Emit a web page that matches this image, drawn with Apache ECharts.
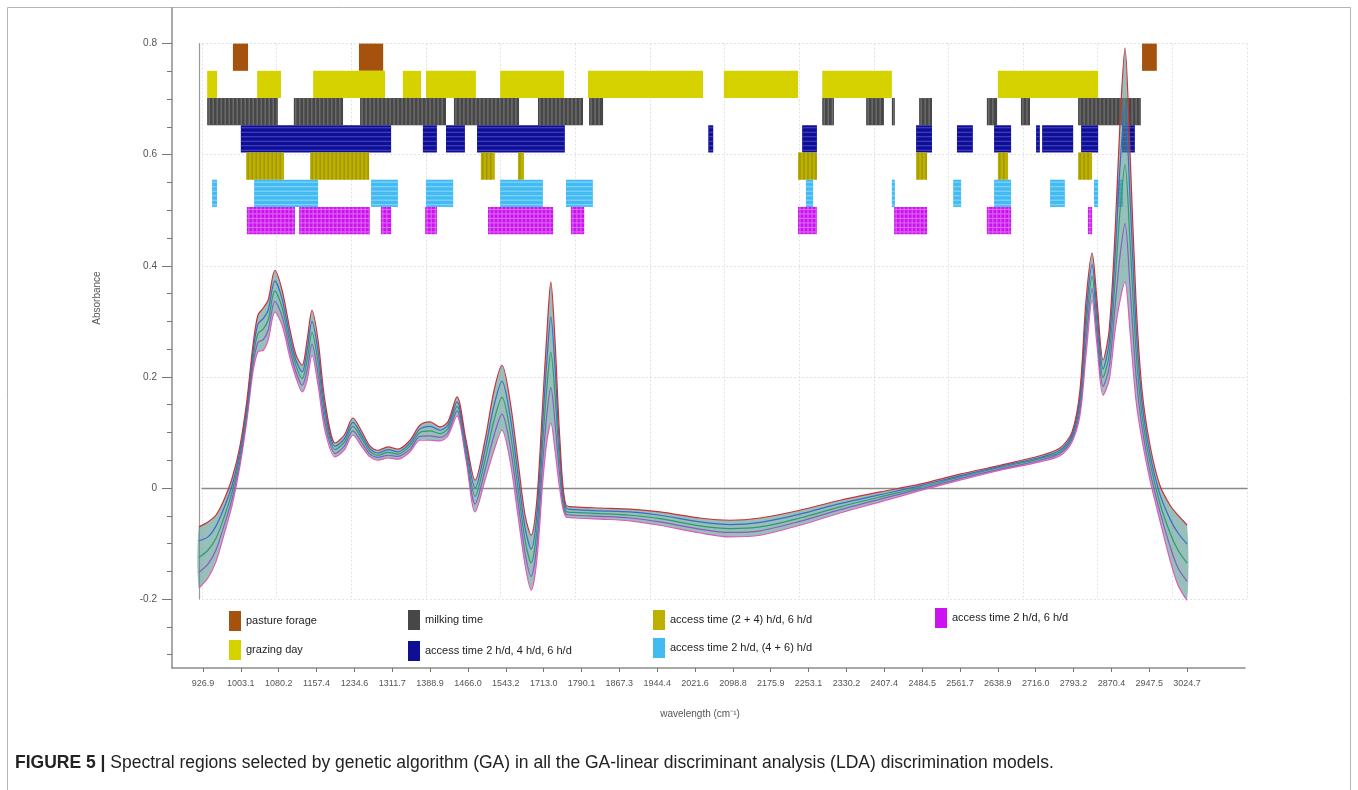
<!DOCTYPE html>
<html>
<head>
<meta charset="utf-8">
<script src="https://cdn.jsdelivr.net/npm/echarts@6/dist/echarts.min.js"></script>
<style>
  html, body { margin: 0; padding: 0; background: #fff; }
  #chart { width: 1358px; height: 790px; }
</style>
</head>
<body>
<div id="chart"></div>
<script>
// Wavenumber printed at each tick of the spectral-variable axis (tick positions 0..26)
const tickLabels = ['926.9', '1003.1', '1080.2', '1157.4', '1234.6', '1311.7', '1388.9', '1466.0', '1543.2',
  '1713.0', '1790.1', '1867.3', '1944.4', '2021.6', '2098.8', '2175.9', '2253.1', '2330.2', '2407.4',
  '2484.5', '2561.7', '2638.9', '2716.0', '2793.2', '2870.4', '2947.5', '3024.7'];
const absorbanceTicks = [-0.2, 0, 0.2, 0.4, 0.6, 0.8];
const absorbanceMinorTicks = [-0.3, -0.25, -0.15, -0.1, -0.05, 0.05, 0.1, 0.15, 0.25, 0.3, 0.35,
  0.45, 0.5, 0.55, 0.65, 0.7, 0.75];

// Sampled spectral variables, position expressed in tick units of the wavenumber axis
const specPos = [-0.11, 0.13, 0.34, 0.55, 0.77, 0.98, 1.16, 1.32, 1.45, 1.59,
  1.72, 1.90, 2.09, 2.30, 2.46, 2.62, 2.75, 2.88, 3.04, 3.22,
  3.49, 3.73, 3.96, 4.20, 4.41, 4.62, 4.89, 5.15, 5.47, 5.73,
  6.00, 6.26, 6.47, 6.71, 6.95, 7.19, 7.45, 7.69, 7.90, 8.11,
  8.32, 8.51, 8.67, 8.82, 8.98, 9.09, 9.19, 9.30, 9.43, 9.59,
  9.83, 10.49, 11.28, 12.07, 13.13, 13.92, 14.72, 15.77, 16.83, 17.89,
  18.94, 20.00, 21.06, 22.11, 22.64, 22.96, 23.17, 23.33, 23.49, 23.62,
  23.78, 23.94, 24.10, 24.23, 24.36, 24.49, 24.65, 24.81, 25.02, 25.28,
  25.55, 25.76, 26.00];

// Milk spectra (absorbance): highest and lowest sample, plus three samples inside the spread
const specUpper = [-0.070, -0.061, -0.049, -0.022, 0.018, 0.077, 0.158, 0.257, 0.311, 0.324,
  0.338, 0.392, 0.356, 0.284, 0.239, 0.221, 0.266, 0.320, 0.266, 0.158,
  0.081, 0.095, 0.126, 0.101, 0.076, 0.068, 0.074, 0.070, 0.086, 0.113,
  0.119, 0.110, 0.119, 0.164, 0.086, 0.014, 0.086, 0.176, 0.221, 0.158,
  0.050, -0.049, -0.085, -0.022, 0.158, 0.284, 0.371, 0.266, 0.086, -0.031,
  -0.034, -0.036, -0.038, -0.043, -0.054, -0.058, -0.054, -0.040, -0.022, -0.007,
  0.007, 0.025, 0.041, 0.058, 0.072, 0.101, 0.176, 0.338, 0.423, 0.338,
  0.230, 0.284, 0.464, 0.662, 0.792, 0.608, 0.338, 0.176, 0.077, 0.005,
  -0.031, -0.049, -0.067];
const specC = [-0.095, -0.088, -0.069, -0.037, 0.005, 0.068, 0.149, 0.245, 0.295, 0.305,
  0.320, 0.373, 0.340, 0.271, 0.229, 0.209, 0.248, 0.300, 0.246, 0.144,
  0.075, 0.088, 0.118, 0.094, 0.071, 0.063, 0.069, 0.065, 0.081, 0.106,
  0.111, 0.104, 0.113, 0.155, 0.077, 0.000, 0.068, 0.149, 0.192, 0.131,
  0.025, -0.072, -0.110, -0.049, 0.122, 0.235, 0.308, 0.217, 0.064, -0.036,
  -0.039, -0.041, -0.043, -0.049, -0.061, -0.066, -0.062, -0.047, -0.028, -0.012,
  0.004, 0.022, 0.039, 0.055, 0.068, 0.096, 0.165, 0.313, 0.402, 0.318,
  0.214, 0.262, 0.419, 0.581, 0.687, 0.527, 0.293, 0.154, 0.061, -0.011,
  -0.056, -0.081, -0.101];
const specB = [-0.125, -0.112, -0.091, -0.054, -0.007, 0.059, 0.140, 0.233, 0.278, 0.286,
  0.302, 0.355, 0.325, 0.259, 0.219, 0.197, 0.230, 0.280, 0.226, 0.131,
  0.069, 0.082, 0.111, 0.088, 0.066, 0.059, 0.064, 0.061, 0.076, 0.100,
  0.103, 0.098, 0.107, 0.147, 0.068, -0.015, 0.050, 0.122, 0.163, 0.104,
  0.000, -0.094, -0.135, -0.076, 0.086, 0.185, 0.244, 0.167, 0.041, -0.042,
  -0.044, -0.046, -0.049, -0.055, -0.068, -0.073, -0.070, -0.054, -0.034, -0.016,
  0.001, 0.020, 0.037, 0.053, 0.065, 0.092, 0.154, 0.289, 0.381, 0.298,
  0.199, 0.239, 0.374, 0.500, 0.582, 0.446, 0.248, 0.131, 0.046, -0.027,
  -0.081, -0.112, -0.135];
const specA = [-0.152, -0.137, -0.112, -0.069, -0.019, 0.050, 0.131, 0.221, 0.262, 0.267,
  0.284, 0.336, 0.309, 0.247, 0.208, 0.185, 0.212, 0.259, 0.205, 0.118,
  0.062, 0.075, 0.103, 0.081, 0.061, 0.055, 0.059, 0.057, 0.070, 0.093,
  0.094, 0.091, 0.100, 0.139, 0.059, -0.029, 0.032, 0.095, 0.133, 0.077,
  -0.024, -0.117, -0.159, -0.103, 0.050, 0.136, 0.181, 0.118, 0.019, -0.047,
  -0.049, -0.051, -0.054, -0.061, -0.074, -0.080, -0.077, -0.060, -0.039, -0.020,
  -0.002, 0.017, 0.034, 0.050, 0.062, 0.088, 0.142, 0.264, 0.359, 0.277,
  0.183, 0.217, 0.329, 0.419, 0.476, 0.365, 0.203, 0.109, 0.030, -0.042,
  -0.105, -0.144, -0.168];
const specLower = [-0.180, -0.162, -0.133, -0.085, -0.031, 0.041, 0.122, 0.209, 0.245, 0.248,
  0.266, 0.317, 0.293, 0.234, 0.198, 0.173, 0.194, 0.239, 0.185, 0.104,
  0.056, 0.068, 0.095, 0.074, 0.056, 0.050, 0.054, 0.052, 0.065, 0.086,
  0.086, 0.085, 0.094, 0.130, 0.050, -0.043, 0.014, 0.068, 0.104, 0.050,
  -0.049, -0.139, -0.184, -0.130, 0.014, 0.086, 0.117, 0.068, -0.004, -0.052,
  -0.054, -0.056, -0.059, -0.067, -0.081, -0.088, -0.085, -0.067, -0.045, -0.025,
  -0.005, 0.014, 0.032, 0.047, 0.058, 0.083, 0.131, 0.239, 0.338, 0.257,
  0.167, 0.194, 0.284, 0.338, 0.371, 0.284, 0.158, 0.086, 0.014, -0.058,
  -0.130, -0.175, -0.202];

// Spectral regions kept by the genetic algorithm for each model: [start, end] in tick units
const regionsPasture = [[0.79, 1.19], [4.12, 4.76], [24.81, 25.20]];
const regionsGrazing = [[0.11, 0.37], [1.43, 2.06], [2.91, 4.81], [5.28, 5.76], [5.89, 7.21], [7.85, 9.54],
  [10.17, 13.21], [13.76, 15.72], [16.36, 18.20], [21.00, 23.65]];
const regionsMilking = [[0.11, 1.98], [2.40, 3.70], [4.15, 6.42], [6.63, 8.35], [8.85, 10.04], [10.20, 10.57],
  [16.36, 16.67], [17.52, 17.99], [18.20, 18.28], [18.92, 19.26], [20.71, 20.98], [21.61, 21.85], [23.12, 24.78]];
const regionsAccess246 = [[1.00, 4.97], [5.81, 6.18], [6.42, 6.92], [7.24, 9.56], [13.35, 13.48], [15.83, 16.22],
  [18.84, 19.26], [19.92, 20.34], [20.90, 21.35], [22.01, 22.11], [22.17, 22.99], [23.20, 23.65], [24.28, 24.62]];
const regionsAccess24and6 = [[1.14, 2.14], [2.83, 4.39], [7.34, 7.71], [8.32, 8.48], [15.72, 16.22],
  [18.84, 19.13], [21.00, 21.27], [23.12, 23.49]];
const regionsAccess2and46 = [[0.24, 0.37], [1.35, 3.04], [4.44, 5.15], [5.89, 6.61], [7.85, 8.98], [9.59, 10.30],
  [15.93, 16.12], [18.20, 18.28], [19.82, 20.03], [20.90, 21.35], [22.38, 22.77], [23.54, 23.65], [24.15, 24.31]];
const regionsAccess26 = [[1.16, 2.43], [2.54, 4.41], [4.70, 4.97], [5.87, 6.18], [7.53, 9.25], [9.72, 10.07],
  [15.72, 16.22], [18.26, 19.13], [20.71, 21.35], [23.38, 23.49]];

const FONT = 'Liberation Sans, Arial, sans-serif';
const Y_MIN = -0.3240, Y_MAX = 0.8641;      // outer absorbance axis extent
const X_MIN = -0.819, X_MAX = 27.53;        // outer wavenumber axis extent (tick units)
const ROW_TOP = 0.8, ROW_H = 0.049;         // strip rows of the selection map

const models = [
  { name: 'pasture forage', data: regionsPasture, fill: '#a5520e' },
  { name: 'grazing day', data: regionsGrazing, fill: '#d6d200' },
  { name: 'milking time', data: regionsMilking, fill: '#474747', v: '#7d7d7d' },
  { name: 'access time 2 h/d, 4 h/d, 6 h/d', data: regionsAccess246, fill: '#0f0f96', h: '#4a4ac6' },
  { name: 'access time (2 + 4) h/d, 6 h/d', data: regionsAccess24and6, fill: '#bcb000', v: '#978c00' },
  { name: 'access time 2 h/d, (4 + 6) h/d', data: regionsAccess2and46, fill: '#43bbf2', h: '#8ed8fa' },
  { name: 'access time 2 h/d, 6 h/d', data: regionsAccess26, fill: '#cc12ee', h: '#de6cf6', v: '#de6cf6' }
];

function regionSeries(m, row) {
  return {
    type: 'custom',
    name: m.name,
    xAxisIndex: 0,
    yAxisIndex: 0,
    z: 3,
    silent: true,
    itemStyle: { color: m.fill },
    encode: { x: [0, 1] },
    data: m.data,
    renderItem(params, api) {
      const top = ROW_TOP - row * ROW_H;
      const p0 = api.coord([api.value(0), top]);
      const p1 = api.coord([api.value(1), top - ROW_H]);
      const x = p0[0], y = p0[1];
      const w = Math.max(p1[0] - p0[0], 2), h = p1[1] - p0[1];
      const children = [{ type: 'rect', shape: { x, y, width: w, height: h }, style: { fill: m.fill } }];
      if (m.v) {
        for (let sx = x + 2; sx < x + w - 0.5; sx += 4) {
          children.push({ type: 'line', shape: { x1: sx, y1: y, x2: sx, y2: y + h },
            style: { stroke: m.v, lineWidth: 1 } });
        }
      }
      if (m.h) {
        for (let sy = y + 2.5; sy < y + h - 0.5; sy += 4.5) {
          children.push({ type: 'line', shape: { x1: x, y1: sy, x2: x + w, y2: sy },
            style: { stroke: m.h, lineWidth: 1 } });
        }
      }
      return { type: 'group', children };
    }
  };
}

const pairs = arr => specPos.map((p, i) => [p, arr[i]]);
const spectra = [
  { data: specLower, color: '#e05cb6' },
  { data: specA, color: '#8a5ac6' },
  { data: specB, color: '#2c9c6a' },
  { data: specC, color: '#3a6ccc' },
  { data: specUpper, color: '#c83238' }
];

const spectrumSeries = spectra.map(s => ({
  type: 'line', xAxisIndex: 0, yAxisIndex: 0, z: 6, silent: true,
  data: pairs(s.data), smooth: 0.3, symbol: 'none',
  lineStyle: { width: 1.2, color: s.color }
}));

// Spread of the sample set, filled between the lowest and highest spectrum
const bandSeries = {
  type: 'custom', xAxisIndex: 0, yAxisIndex: 0, z: 5, silent: true,
  data: [[specPos[0], specLower[0]]],
  renderItem(params, api) {
    const top = specPos.map((p, i) => api.coord([p, specUpper[i]]));
    const bottom = specPos.map((p, i) => api.coord([p, specLower[i]])).reverse();
    return {
      type: 'polygon',
      shape: { points: top.concat(bottom), smooth: 0.25 },
      style: { fill: 'rgba(84,148,140,0.6)' }
    };
  }
};

const legendText = { fontFamily: FONT, fontSize: 11, color: '#222' };
const legendBase = {
  orient: 'vertical', padding: 0, itemWidth: 12, itemHeight: 20, icon: 'rect',
  textStyle: legendText, selectedMode: false
};

const option = {
  animation: false,
  backgroundColor: '#fff',
  grid: [
    { left: 172, top: 8, width: 1073, height: 660 },
    { left: 202, top: 43.6, width: 1045, height: 555.5 }
  ],
  xAxis: [
    {
      type: 'value', gridIndex: 0, min: X_MIN, max: X_MAX,
      axisLine: { onZero: false, lineStyle: { color: '#8c8c8c', width: 1.5 } },
      axisTick: { customValues: tickLabels.map((t, i) => i), length: 4, inside: false,
        lineStyle: { color: '#777' } },
      axisLabel: { customValues: tickLabels.map((t, i) => i), formatter: v => tickLabels[Math.round(v)],
        fontFamily: FONT, fontSize: 9, color: '#555', margin: 11 },
      splitLine: { show: false }
    },
    {
      type: 'value', gridIndex: 1, min: 0, max: 14, interval: 1,
      axisLine: { show: true, onZero: true, lineStyle: { color: '#8a8a8a', width: 1.3 } },
      axisTick: { show: false }, axisLabel: { show: false },
      splitLine: { show: true, lineStyle: { color: '#e2e2e2', type: [2, 2], width: 1 } }
    }
  ],
  yAxis: [
    {
      type: 'value', gridIndex: 0, min: Y_MIN, max: Y_MAX,
      axisLine: { show: true, onZero: false, lineStyle: { color: '#8c8c8c', width: 1.5 } },
      axisTick: { show: true, customValues: absorbanceTicks, length: 10, lineStyle: { color: '#777' } },
      axisLabel: { customValues: absorbanceTicks, formatter: v => String(Math.round(v * 10) / 10),
        fontFamily: FONT, fontSize: 10, color: '#555', margin: 15 },
      splitLine: { show: false }
    },
    {
      type: 'value', gridIndex: 0, min: Y_MIN, max: Y_MAX, position: 'left',
      axisLine: { show: false, onZero: false },
      axisTick: { show: true, customValues: absorbanceMinorTicks, length: 5, lineStyle: { color: '#777' } },
      axisLabel: { show: false },
      splitLine: { show: false }
    },
    {
      type: 'value', gridIndex: 1, min: -0.2, max: 0.8, interval: 0.2, offset: 3,
      axisLine: { show: true, onZero: false, lineStyle: { color: '#9a9a9a', width: 1.2 } },
      axisTick: { show: false }, axisLabel: { show: false },
      splitLine: { show: true, lineStyle: { color: '#e2e2e2', type: [2, 2], width: 1 } }
    }
  ],
  legend: [
    Object.assign({}, legendBase, { left: 229, top: 611, itemGap: 9, data: ['pasture forage', 'grazing day'] }),
    Object.assign({}, legendBase, { left: 408, top: 610, itemGap: 11,
      data: ['milking time', 'access time 2 h/d, 4 h/d, 6 h/d'] }),
    Object.assign({}, legendBase, { left: 653, top: 610, itemGap: 8,
      data: ['access time (2 + 4) h/d, 6 h/d', 'access time 2 h/d, (4 + 6) h/d'] }),
    Object.assign({}, legendBase, { left: 935, top: 608, data: ['access time 2 h/d, 6 h/d'] })
  ],
  graphic: [
    { type: 'rect', z: 0, shape: { x: 7.5, y: 7.5, width: 1343, height: 800 },
      style: { fill: 'none', stroke: '#b4b4b4', lineWidth: 1 } },
    { type: 'text', rotation: Math.PI / 2, x: 97, y: 298,
      style: { text: 'Absorbance', fontFamily: FONT, fontSize: 10, fill: '#555',
        align: 'center', verticalAlign: 'middle' } },
    { type: 'text', x: 700, y: 714,
      style: { text: 'wavelength (cm⁻¹)', fontFamily: FONT, fontSize: 10, fill: '#555',
        align: 'center', verticalAlign: 'middle' } },
    { type: 'text', x: 15, y: 763,
      style: {
        text: '{b|FIGURE 5 |} Spectral regions selected by genetic algorithm (GA) in all the GA-linear discriminant analysis (LDA) discrimination models.',
        fontFamily: FONT, fontSize: 17.5, fill: '#222', verticalAlign: 'middle',
        rich: { b: { fontFamily: FONT, fontSize: 17.5, fontWeight: 'bold', fill: '#222' } }
      } }
  ],
  series: [
    { type: 'line', xAxisIndex: 1, yAxisIndex: 2, data: [], silent: true }
  ].concat(models.map((m, i) => regionSeries(m, i)), [bandSeries], spectrumSeries)
};

const chart = echarts.init(document.getElementById('chart'));
chart.setOption(option);
</script>
</body>
</html>
